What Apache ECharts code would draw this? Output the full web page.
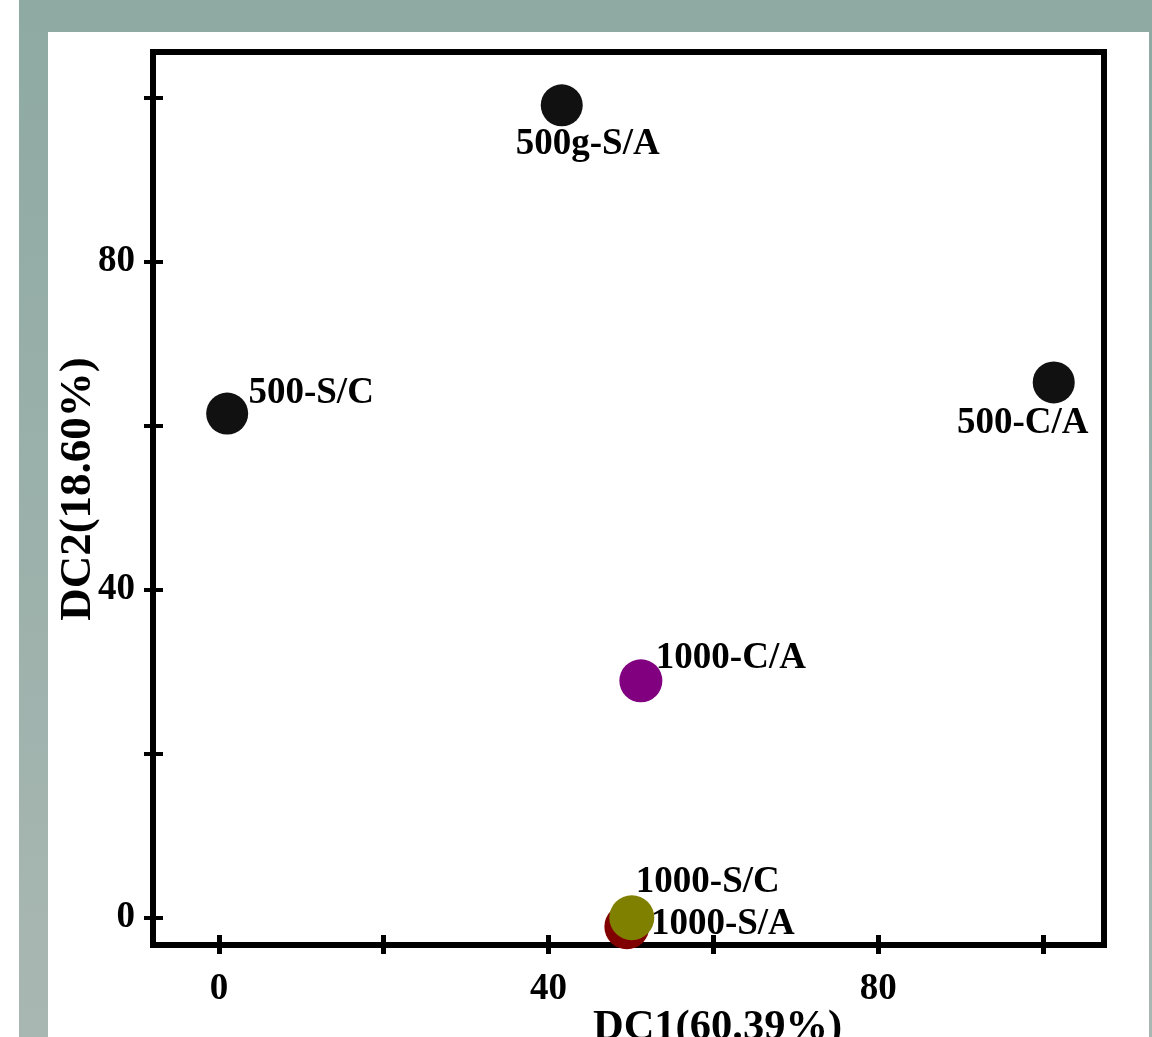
<!DOCTYPE html>
<html>
<head>
<meta charset="utf-8">
<script src="https://cdn.jsdelivr.net/npm/echarts@6/dist/echarts.min.js"></script>
<style>
html,body{margin:0;padding:0;background:#fff;overflow:hidden;}
#chart{width:1152px;height:1037px;}
</style>
</head>
<body>
<div id="chart"></div>
<script>
// ---- data ----
var sampleNames = ['500g-S/A', '500-S/C', '500-C/A', '1000-C/A', '1000-S/A', '1000-S/C'];
var dc1Values = [41.6, 1.0, 101.3, 51.2, 49.5, 50.1];
var dc2Values = [99.1, 61.5, 65.3, 28.9, -1.1, 0.0];
var tickValues = [0, 20, 40, 60, 80, 100];
var xTickLabels = [0, 40, 80];
var yTickLabels = [0, 40, 80];
var xAxisTitle = 'DC1(60.39%)';
var yAxisTitle = 'DC2(18.60%)';

// ---- styles / layout ----
var pointColors = ['#111111', '#111111', '#111111', '#800080', '#800000', '#808000'];
var pointSizes = [42, 42, 42, 43, 45, 45];
var labelOffsets = [[26, 39], [84, -20], [-31, 41], [90, -22], [96, -2], [76, -35]];

var FONT = '"Liberation Serif", "Times New Roman", serif';

var data = sampleNames.map(function (n, i) {
  return {
    name: n,
    value: [dc1Values[i], dc2Values[i]],
    symbolSize: pointSizes[i],
    itemStyle: { color: pointColors[i], opacity: 1 },
    label: { offset: labelOffsets[i] }
  };
});

var chart = echarts.init(document.getElementById('chart'), null, { renderer: 'canvas', width: 1152, height: 1037 });

var baseX = {
  type: 'value', min: -8, max: 107.4, position: 'bottom', offset: 0,
  splitLine: { show: false }, axisLine: { show: false, onZero: false }
};
var baseY = {
  type: 'value', min: -3.33, max: 105.6, position: 'left', offset: 0,
  splitLine: { show: false }, axisLine: { show: false, onZero: false }
};

var option = {
  backgroundColor: '#ffffff',
  animation: false,
  graphic: [
    {
      type: 'rect', z: -100, silent: true,
      shape: { x: 19, y: 0, width: 1133, height: 1037 },
      style: {
        fill: {
          type: 'linear', x: 0, y: 0, x2: 0, y2: 1,
          colorStops: [{ offset: 0, color: '#8eaaa3' }, { offset: 1, color: '#a9b7b2' }]
        }
      }
    },
    {
      type: 'rect', z: -99, silent: true,
      shape: { x: 48, y: 32, width: 1101, height: 1005 },
      style: { fill: '#ffffff' }
    }
  ],
  grid: {
    left: 153, top: 52, width: 951, height: 893,
    containLabel: false, outerBoundsMode: 'none',
    show: true, borderColor: '#000', borderWidth: 6, backgroundColor: 'transparent'
  },
  xAxis: [
    Object.assign({}, baseX, {
      axisTick: { show: true, inside: false, length: 9, customValues: tickValues, lineStyle: { color: '#000', width: 5 } },
      axisLabel: {
        show: true, margin: 26, color: '#000', fontFamily: FONT, fontWeight: 'bold', fontSize: 37,
        customValues: xTickLabels
      },
      name: xAxisTitle, nameLocation: 'middle', nameGap: 62, nameMoveOverlap: false,
      nameTextStyle: { color: '#000', fontFamily: FONT, fontWeight: 'bold', fontSize: 42.5, padding: [0, 0, 0, 178] }
    }),
    Object.assign({}, baseX, {
      axisTick: { show: true, inside: true, length: 10, customValues: tickValues, lineStyle: { color: '#000', width: 5 } },
      axisLabel: { show: false }
    })
  ],
  yAxis: [
    Object.assign({}, baseY, {
      axisTick: { show: true, inside: false, length: 9, customValues: tickValues, lineStyle: { color: '#000', width: 4 } },
      axisLabel: {
        show: true, margin: 18, color: '#000', fontFamily: FONT, fontWeight: 'bold', fontSize: 37,
        customValues: yTickLabels
      },
      name: yAxisTitle, nameLocation: 'middle', nameGap: 52, nameMoveOverlap: false,
      nameTextStyle: { color: '#000', fontFamily: FONT, fontWeight: 'bold', fontSize: 45, padding: [0, 0, 0, 19] }
    }),
    Object.assign({}, baseY, {
      axisTick: { show: true, inside: true, length: 10, customValues: tickValues, lineStyle: { color: '#000', width: 4 } },
      axisLabel: { show: false }
    })
  ],
  series: [{
    type: 'scatter',
    xAxisIndex: 0, yAxisIndex: 0,
    symbol: 'circle',
    itemStyle: { opacity: 1 },
    data: data,
    label: {
      show: true, position: 'inside', align: 'center', verticalAlign: 'middle',
      formatter: '{b}', color: '#000', opacity: 1, fontFamily: FONT, fontWeight: 'bold', fontSize: 37
    },
    emphasis: { disabled: true }
  }]
};

chart.setOption(option);
</script>
</body>
</html>
